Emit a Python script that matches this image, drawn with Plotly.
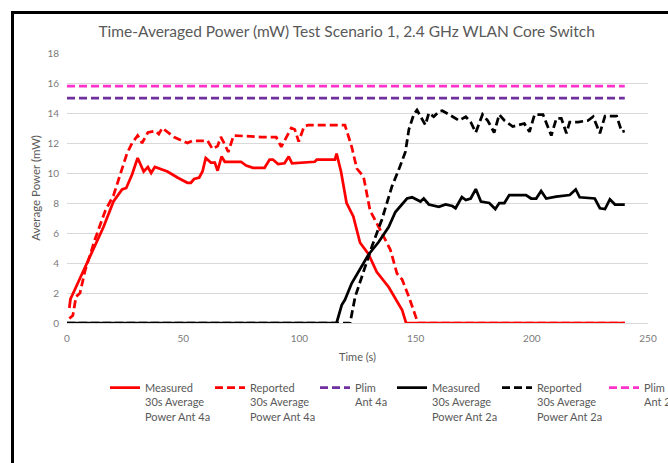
import plotly.graph_objects as go

# ---------------- data ----------------
meas4a_t = [1, 1.5, 2.7, 7.1, 11.4, 15.7, 20, 23.7, 25.5, 28, 30.4, 33, 34.8, 36.2, 37.8, 43.2, 47.5,
            51.8, 53.3, 54.7, 56.9, 58.3, 59.7, 61.9, 63.6, 64.8, 66.5, 67.9, 74.9, 77.1, 80, 85, 87.2,
            88.6, 90.8, 93.6, 95.4, 96.8, 106.6, 107.5, 115.3, 116, 117.9, 120.3, 123.2, 126.1, 129.7,
            133.3, 138.4, 144.2, 145.9, 240]
meas4a_v = [1.0, 1.6, 2.0, 3.5, 4.9, 6.4, 8.1, 8.9, 9.0, 9.9, 11.0, 10.1, 10.4, 10.0, 10.4, 10.1, 9.7,
            9.35, 9.35, 9.6, 9.7, 10.1, 11.0, 10.7, 10.7, 10.15, 11.1, 10.75, 10.75, 10.5, 10.35, 10.35, 10.9,
            10.9, 10.6, 10.65, 11.1, 10.65, 10.75, 10.9, 10.9, 11.3, 10.1, 8.0, 7.1, 5.35, 4.6,
            3.4, 2.4, 0.87, 0, 0]

rep4a_t = [1, 2.5, 3.9, 5.6, 7.8, 12.1, 16.5, 20, 22.9, 25.8, 28, 30.4, 32.3, 34.8, 38.1, 39.5, 41, 46,
           51.8, 54, 60.5, 62.6, 64.8, 66.2, 67.6, 69.4, 71.7, 83.5, 90, 92.2, 96.5, 98, 99.7, 102, 103.8,
           110.2, 112, 119.6, 122.5, 124.7, 127.6, 130.4, 134.8, 139.1, 142, 144.2, 147.1, 150.6, 151, 240]
rep4a_v = [0.3, 0.5, 1.75, 2.0, 3.5, 5.6, 7.5, 8.5, 9.9, 11.3, 12.0, 12.5, 12.0, 12.7, 12.8, 12.6, 13.0, 12.4,
           12.0, 12.15, 12.15, 11.6, 11.8, 12.4, 12.0, 11.4, 12.5, 12.4, 12.4, 11.75, 13.0, 12.9, 12.1, 13.1, 13.2,
           13.2, 13.2, 13.2, 11.75, 10.3, 9.75, 7.5, 6.2, 4.9, 3.3, 2.9, 1.75, 0.2, 0, 0]

plim4a_t = [0, 240]
plim4a_v = [15.0, 15.0]

meas2a_t = [0, 116, 118.2, 119.6, 122.5, 125.4, 129.7, 134.1, 138.4, 141.3, 144.2, 146.3, 148.5, 152.1,
            153.5, 155.7, 160, 162.9, 165.8, 167.2, 169.9, 171.6, 173.7, 175.9, 178.1, 181.7, 184.3, 186,
            188.2, 190.3, 197.5, 199.7, 201.9, 204, 206.2, 210.5, 216.3, 218.9, 220.6, 227.1, 229.3, 231.5,
            233.6, 235.8, 240]
meas2a_v = [0, 0, 1.2, 1.55, 2.65, 3.4, 4.55, 5.4, 6.4, 7.4, 7.9, 8.3, 8.38, 8.1,
            8.3, 7.9, 7.75, 7.9, 7.8, 7.65, 8.4, 8.2, 8.3, 8.93, 8.1, 8.0, 7.6, 8.0,
            8.0, 8.53, 8.53, 8.3, 8.3, 8.8, 8.3, 8.42, 8.53, 8.9, 8.38, 8.3, 7.65, 7.6,
            8.25, 7.9, 7.9]

rep2a_t = [0, 121.8, 124, 126.8, 131.2, 135.5, 139.8, 142.7, 145.6, 147.1, 149.2, 150.6, 152.1, 154.2,
           155.7, 157.8, 160, 161.5, 164.4, 168.7, 171.6, 173.7, 175.9, 178.8, 181, 183.8, 186, 188.2,
           191.8, 196.8, 199, 201.2, 204.8, 208.4, 210.6, 212.7, 214.9, 216.3, 219.9, 224.2, 226.4, 229.3,
           231.5, 236.5, 238.7, 240]
rep2a_v = [0, 0, 1.75, 3.1, 5.1, 6.9, 9.1, 10.2, 11.4, 12.9, 13.9, 14.2, 13.75, 13.2,
           14.0, 13.75, 14.1, 14.15, 13.9, 13.5, 13.75, 13.4, 12.7, 13.9, 13.5, 12.7, 13.9, 13.5,
           13.1, 13.3, 12.75, 13.9, 13.9, 12.5, 13.65, 13.65, 12.65, 13.4, 13.4, 13.5, 13.75, 12.65,
           13.8, 13.8, 12.75, 12.8]

plim2a_t = [0, 240]
plim2a_v = [15.8, 15.8]

x_ticks = [0, 50, 100, 150, 200, 250]
y_ticks = [0, 2, 4, 6, 8, 10, 12, 14, 16, 18]

names = ["Measured<br>30s Average<br>Power Ant 4a",
         "Reported<br>30s Average<br>Power Ant 4a",
         "Plim<br>Ant 4a",
         "Measured<br>30s Average<br>Power Ant 2a",
         "Reported<br>30s Average<br>Power Ant 2a",
         "Plim<br>Ant 2a"]

# ---------------- figure ----------------
FONT = "Lato, 'Open Sans', sans-serif"
GRAY = "#595959"
DASH = "8px,4px"

fig = go.Figure()
series = [
    (meas4a_t, meas4a_v, "#FF0000", "solid", "legend"),
    (rep4a_t, rep4a_v, "#FF0000", DASH, "legend"),
    (plim4a_t, plim4a_v, "#7030A0", DASH, "legend"),
    (meas2a_t, meas2a_v, "#000000", "solid", "legend2"),
    (rep2a_t, rep2a_v, "#000000", DASH, "legend2"),
    (plim2a_t, plim2a_v, "#FF33CC", DASH, "legend3"),
]
for (t, v, c, d, lg), nm in zip(series, names):
    fig.add_trace(go.Scatter(x=t, y=v, mode="lines", name=nm, legend=lg,
                             line=dict(color=c, width=2.75, dash=d)))

W, H = 668, 463
L, R, T, B = 67, 20, 53, 140
pw, ph = W - L - R, H - T - B

def px2x(px):
    return (px - L) / pw

def py2y(py):
    return (H - B - py) / ph

legend_common = dict(orientation="h", entrywidth=60, entrywidthmode="pixels", itemwidth=30,
                     valign="top", font=dict(family=FONT, size=11, color=GRAY),
                     bgcolor="rgba(0,0,0,0)", xanchor="left", yanchor="top",
                     traceorder="normal")

fig.update_layout(
    width=W, height=H,
    template="none",
    paper_bgcolor="white", plot_bgcolor="white",
    margin=dict(l=L, r=R, t=T, b=B, autoexpand=False),
    font=dict(family=FONT, color=GRAY),
    title=dict(text="Time-Averaged Power (mW) Test Scenario 1, 2.4 GHz WLAN Core Switch",
               font=dict(family=FONT, size=15.5, color=GRAY),
               x=0.519, xanchor="center", xref="container",
               y=1 - 32 / H, yanchor="middle", yref="container"),
    xaxis=dict(range=[0, 250], tickvals=x_ticks, showgrid=False, zeroline=False,
               showline=False, ticks="", ticklabelstandoff=8,
               tickfont=dict(family=FONT, size=10, color="#7a7a7a"),
               title=dict(text="Time (s)", standoff=10, font=dict(family=FONT, size=11, color=GRAY))),
    yaxis=dict(range=[0, 18], tickvals=y_ticks, showgrid=True, gridcolor="#d9d9d9", gridwidth=1,
               zeroline=True, zerolinecolor="#d9d9d9", zerolinewidth=1, showline=False, ticks="",
               ticklabelstandoff=7,
               tickfont=dict(family=FONT, size=10, color="#7a7a7a"),
               title=dict(text="Average Power (mW)", standoff=4, font=dict(family=FONT, size=11.5, color=GRAY))),
    legend=dict(x=px2x(105), y=py2y(374), **legend_common),
    legend2=dict(x=px2x(392), y=py2y(374), **legend_common),
    legend3=dict(x=px2x(604), y=py2y(374), **legend_common),
    showlegend=True,
    shapes=[
        dict(type="line", xref="paper", yref="paper", x0=px2x(12.5), x1=px2x(12.5),
             y0=py2y(12.5), y1=py2y(470), line=dict(color="black", width=3)),
        dict(type="line", xref="paper", yref="paper", x0=px2x(11), x1=px2x(680),
             y0=py2y(12.5), y1=py2y(12.5), line=dict(color="black", width=3)),
    ],
)

fig.write_html("out.html", config={"displayModeBar": False},
               post_script="document.body.style.margin='0';")
